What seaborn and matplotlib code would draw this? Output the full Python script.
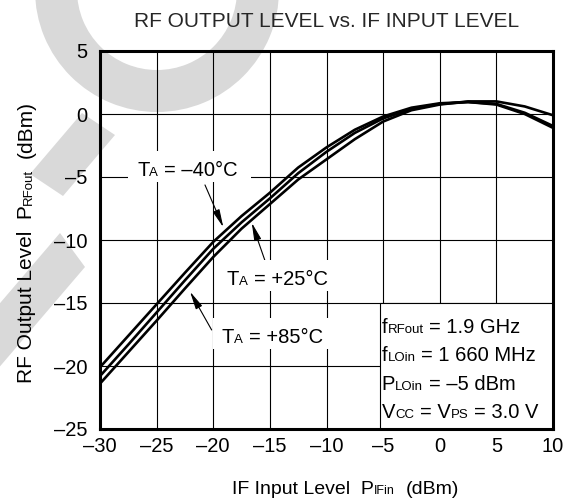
"""
RF output level vs. IF input level (three ambient temperatures).
"""

import numpy as np
import pandas as pd
import matplotlib
matplotlib.use("Agg")
import matplotlib.pyplot as plt
from matplotlib.patches import Rectangle, Polygon, Wedge
from matplotlib.transforms import IdentityTransform
from matplotlib.font_manager import FontProperties
import seaborn as sns

# data
input_dbm = [-30, -27.5, -25, -22.5, -20, -17.5, -15, -12.5, -10, -7.5, -5, -2.5, 0, 2.5, 5, 7.5, 10]
out_m40 = [-20.1, -17.6, -15.1, -12.6, -10.15, -8.1, -6.25, -4.25, -2.65, -1.25, -0.2, 0.5, 0.85, 0.95, 0.75, 0.0, -1.1]
out_p25 = [-20.8, -18.3, -15.75, -13.2, -10.7, -8.6, -6.7, -4.7, -3.0, -1.5, -0.35, 0.4, 0.8, 0.95, 0.8, 0.1, -0.95]
out_p85 = [-21.4, -18.9, -16.4, -13.85, -11.35, -9.1, -7.15, -5.2, -3.6, -2.0, -0.6, 0.3, 0.75, 1.0, 1.0, 0.6, -0.1]
temps = ["–40°C", "+25°C", "+85°C"]

x_ticks = [-30, -25, -20, -15, -10, -5, 0, 5, 10]
x_tick_labels = ["–30", "–25", "–20", "–15", "–10", "–5", "0", "5", "10"]
y_ticks = [5, 0, -5, -10, -15, -20, -25]
y_tick_labels = ["5", "0", "–5", "–10", "–15", "–20", "–25"]

# label anchors (left/baseline, data coords) and arrows (tail -> head)
label_pos = [(-26.73, -4.92), (-18.79, -13.57), (-19.25, -18.15)]
arrow_tail = [(-20.73, -5.63), (-15.37, -11.80), (-20.14, -17.14)]
arrow_head = [(-19.11, -8.99), (-16.6, -8.63), (-22.05, -14.1)]

cond_box = (-5.3, -25, 10, -15)
cond_lines = [
    [("f", 14.5), ("RFout", 9.5), (" = 1.9 GHz", 14.5)],
    [("f", 14.5), ("LOin", 9.5), (" = 1 660 MHz", 14.5)],
    [("P", 14.5), ("LOin", 9.5), (" = –5 dBm", 14.5)],
    [("V", 14.5), ("CC", 9.5), (" = V", 14.5), ("PS", 9.5), (" = 3.0 V", 14.5)],
]
cond_x = -5.12
cond_y = [-17.36, -19.6, -21.9, -24.15]

sns.set_theme(style="ticks")
FONT = "Liberation Sans"
plt.rcParams["font.family"] = [FONT, "DejaVu Sans"]

W, H = 579, 504
fig = plt.figure(figsize=(W / 100, H / 100), dpi=100)
fig.patch.set_facecolor("white")
ax = fig.add_axes([100 / W, 1 - 429 / H, 453 / W, 378 / H])
ax.set_facecolor("none")

# grey watermark behind the chart
wm = "#d9d9d9"
fig.add_artist(Wedge((157, H + 10), 122, 0, 360, width=42, fc=wm, ec="none",
                     transform=IdentityTransform(), zorder=-1))
for pts in ([(82, 113), (115, 135), (63, 196), (30, 174)],
            [(60, 233), (85, 267), (-45, 419), (-70, 385)]):
    fig.add_artist(Polygon([(px, H - py) for px, py in pts], closed=True, fc=wm, ec="none",
                           transform=IdentityTransform(), zorder=-1))

df = pd.DataFrame({
    "x": input_dbm * 3,
    "y": out_m40 + out_p25 + out_p85,
    "T": [temps[0]] * len(input_dbm) + [temps[1]] * len(input_dbm) + [temps[2]] * len(input_dbm),
})
sns.lineplot(data=df, x="x", y="y", hue="T", palette=["black"] * 3, lw=1.9,
             estimator=None, legend=False, ax=ax, zorder=3)

ax.set_xlim(-30, 10)
ax.set_ylim(-25, 5)
ax.set_xticks(x_ticks)
ax.set_xticklabels(x_tick_labels)
ax.set_yticks(y_ticks)
ax.set_yticklabels(y_tick_labels)
ax.tick_params(length=0, labelsize=14.5, colors="black")
ax.tick_params(axis="y", pad=9)
ax.tick_params(axis="x", pad=6)
ax.grid(True, color="black", lw=0.8)
ax.set_xlabel("")
ax.set_ylabel("")
for s in ax.spines.values():
    s.set_linewidth(2.2)
    s.set_color("black")

# conditions box
x0, y0, x1, y1 = cond_box
ax.add_patch(Rectangle((x0, y0), x1 - x0, y1 - y0, fc="white", ec="black", lw=0.8, zorder=2))

for (tx, ty), (hx, hy) in zip(arrow_tail, arrow_head):
    ax.annotate("", xy=(hx, hy), xytext=(tx, ty),
                arrowprops=dict(arrowstyle="-|>,head_length=0.9,head_width=0.18",
                                color="black", lw=0.8, shrinkA=0, shrinkB=0))

renderer = fig.canvas.get_renderer()


def advance(s, size):
    fp = FontProperties(family=FONT, size=size)
    w1 = renderer.get_text_width_height_descent("I" + s + "I", fp, False)[0]
    w0 = renderer.get_text_width_height_descent("II", fp, False)[0]
    return w1 - w0


def rich_text(x, y, pieces, rotation=0):
    total = 0
    for s, size in pieces:
        lead = s[: len(s) - len(s.lstrip())]
        off = advance(lead, size) if lead else 0
        if rotation:
            px, py = x, y + total + off
        else:
            px, py = x + total + off, y
        fig.text(px, py, s.lstrip(), fontsize=size, rotation=rotation, rotation_mode="anchor",
                 ha="left", va="baseline", transform=IdentityTransform(), zorder=4, color="black")
        total += advance(s, size)
    return total


# temperature labels with white backing
for (lx, ly), t in zip(label_pos, temps):
    dx, dy = ax.transData.transform((lx, ly))
    pieces = [("T", 14.5), ("A", 9.5), (" = " + t, 14.5)]
    w = rich_text(dx, dy, pieces)
    fig.add_artist(Rectangle((dx - 9, dy - 6), w + 22, 31, fc="white", ec="none",
                             transform=IdentityTransform(), zorder=1))

for pieces, cy in zip(cond_lines, cond_y):
    dx, dy = ax.transData.transform((cond_x, cy))
    rich_text(dx, dy, pieces)

# title and axis labels
fig.text(326.5, H - 27.3, "RF OUTPUT LEVEL vs. IF INPUT LEVEL", fontsize=15,
         ha="center", va="baseline", transform=IdentityTransform())
rich_text(232, H - 494, [("IF Input Level  P", 14), ("IFin", 9), ("  (dBm)", 14)])
rich_text(31.7, H - 383, [("RF Output Level  P", 15), ("RFout", 9.5), ("  (dBm)", 15)], rotation=90)

plt.savefig("out.png", dpi=100)
plt.close()
